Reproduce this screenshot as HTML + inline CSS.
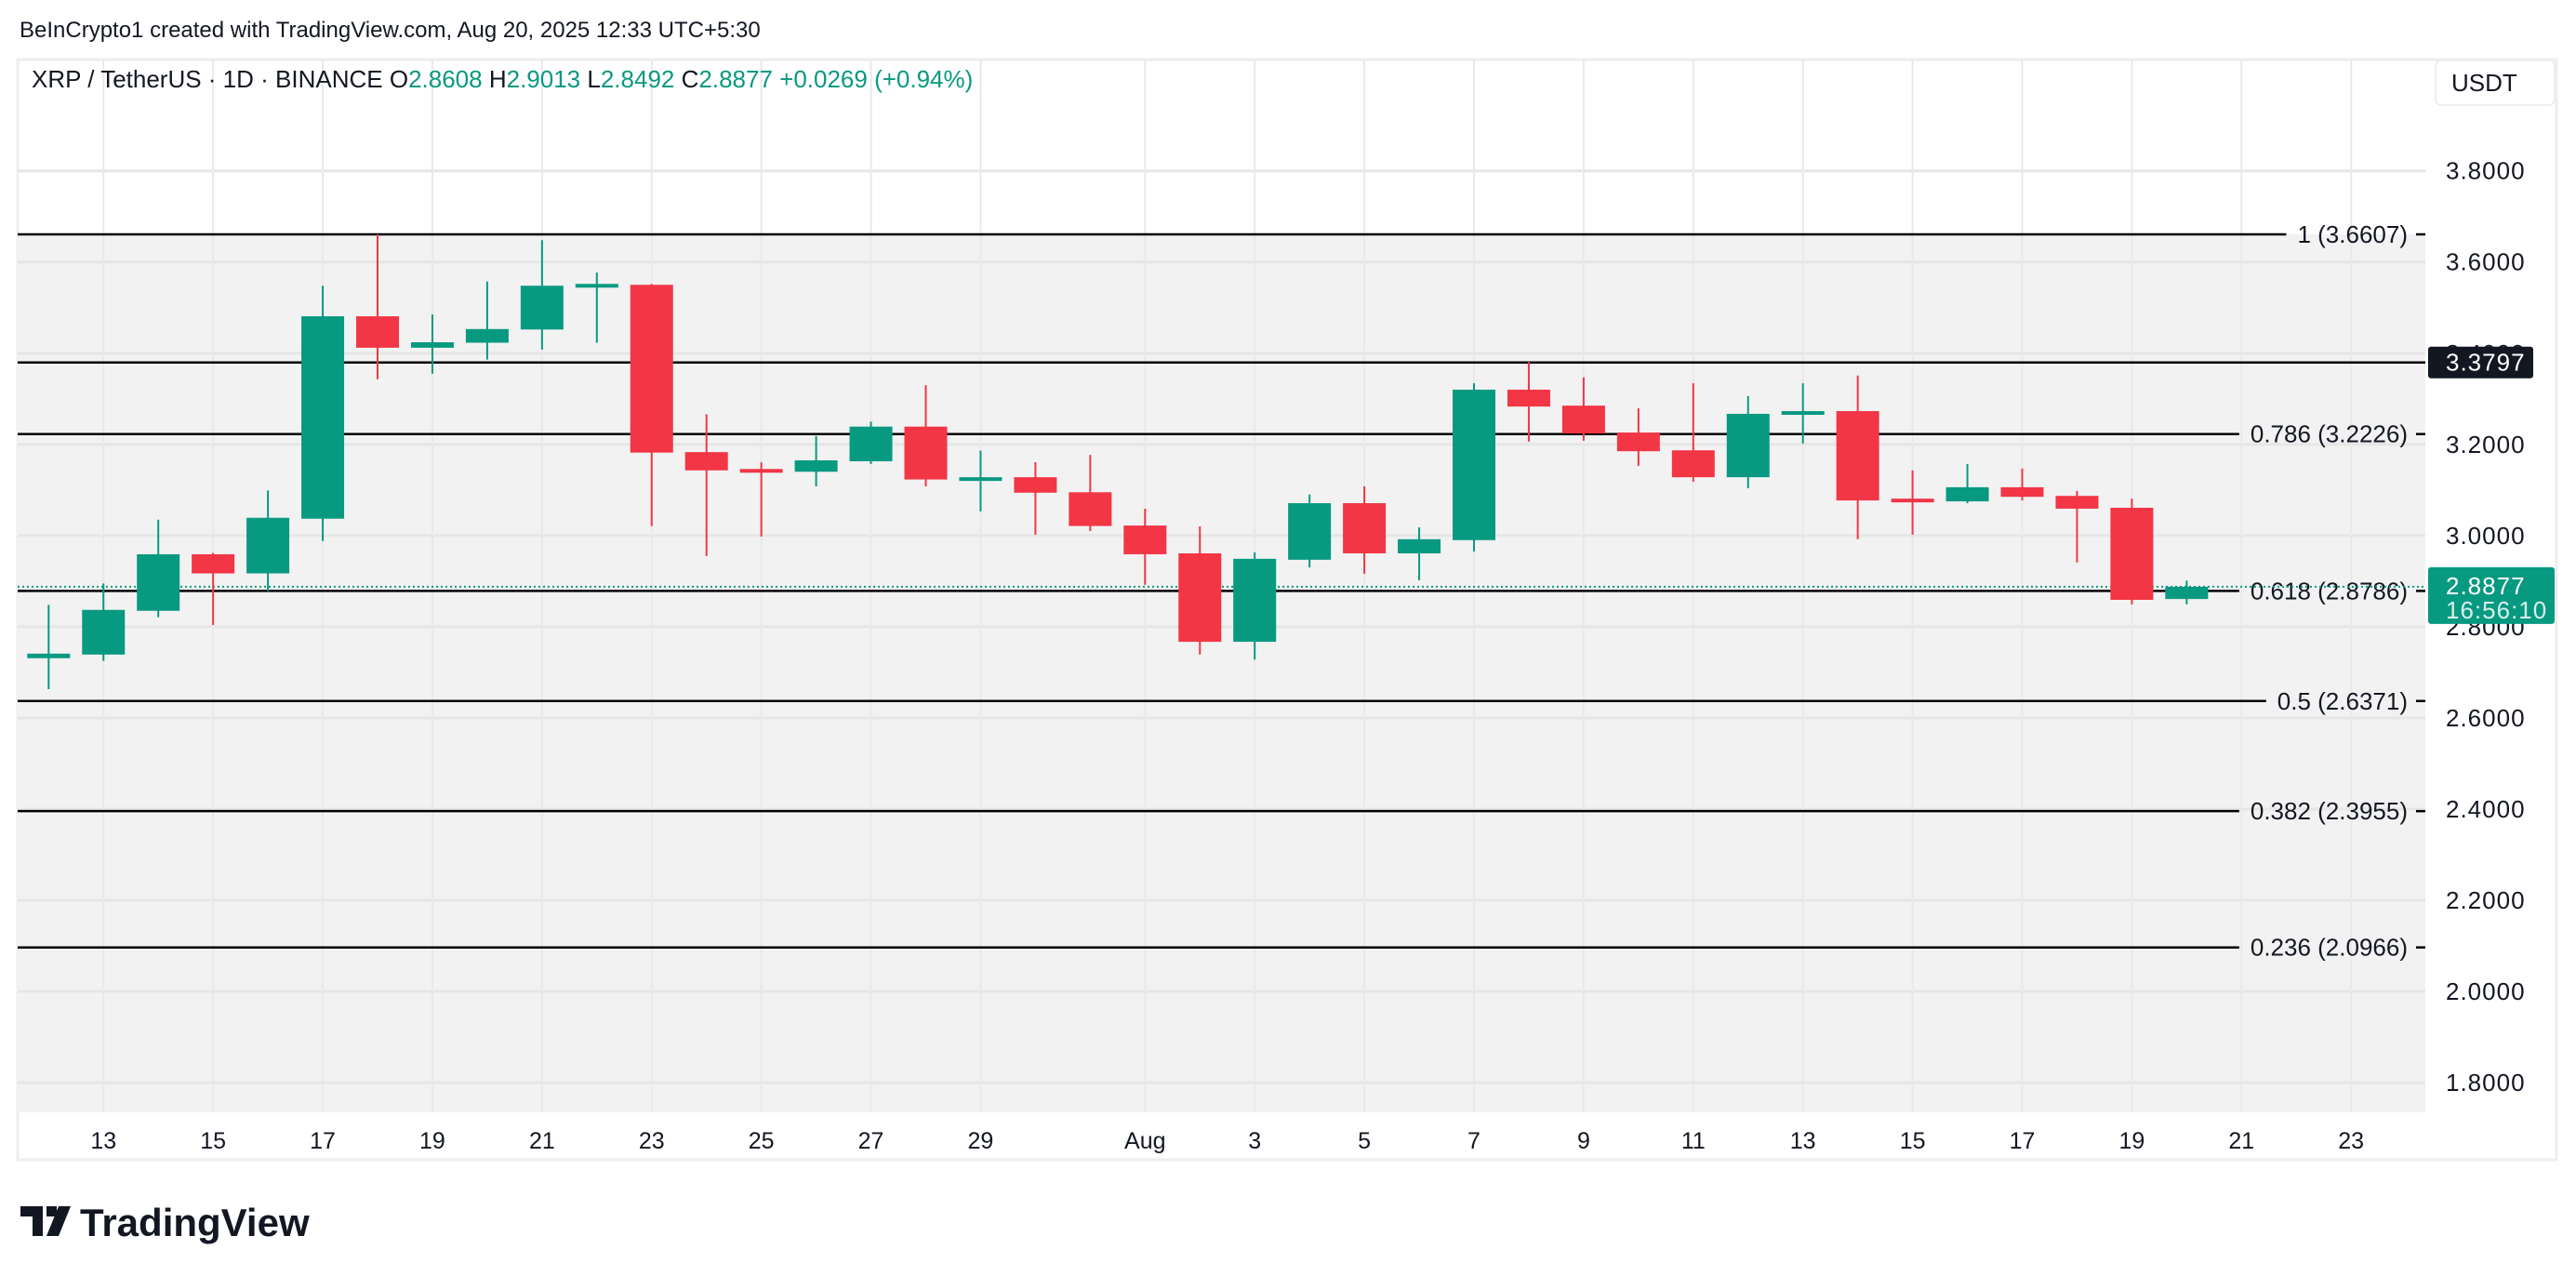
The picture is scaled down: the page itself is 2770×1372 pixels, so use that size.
<!DOCTYPE html>
<html><head><meta charset="utf-8"><style>
html,body{margin:0;padding:0;background:#fff;}
svg{display:block;font-family:"Liberation Sans",sans-serif;}
</style></head><body>
<svg id="chart" width="2770" height="1372" viewBox="0 0 2770 1372" xmlns="http://www.w3.org/2000/svg">
<text x="21" y="40" font-size="24" fill="#131722">BeInCrypto1 created with TradingView.com, Aug 20, 2025 12:33 UTC+5:30</text>
<rect x="19" y="64" width="2730" height="1183" fill="#fff" stroke="#eeeeee" stroke-width="3"/>
<g id="fill"></g>
<g id="grid"></g>
<g id="fibs"></g>
<g id="candles"></g>
<g id="axis"></g>
<text x="34" y="94" font-size="26" fill="#131722">XRP / TetherUS · 1D · BINANCE  <tspan>O</tspan><tspan fill="#089981">2.8608</tspan>  <tspan>H</tspan><tspan fill="#089981">2.9013</tspan>  <tspan>L</tspan><tspan fill="#089981">2.8492</tspan>  <tspan>C</tspan><tspan fill="#089981">2.8877  +0.0269 (+0.94%)</tspan></text>
<rect x="2619" y="65" width="128" height="48" rx="6" fill="#fff" stroke="#eeeeee" stroke-width="2"/>
<text x="2636" y="98" font-size="26" fill="#131722">USDT</text>
<g>
<path d="M22 1297h24v32h-11v-21h-13z M50 1297h11v11h-11z M63 1297h13l-13 32h-13z" fill="#131722"/>
<text x="86" y="1329" font-size="42" font-weight="bold" fill="#131722">TradingView</text>
</g>
</svg>
<script>
const dates=['Jul12','Jul13','Jul14','Jul15','Jul16','Jul17','Jul18','Jul19','Jul20','Jul21','Jul22','Jul23','Jul24','Jul25','Jul26','Jul27','Jul28','Jul29','Jul30','Jul31','Aug1','Aug2','Aug3','Aug4','Aug5','Aug6','Aug7','Aug8','Aug9','Aug10','Aug11','Aug12','Aug13','Aug14','Aug15','Aug16','Aug17','Aug18','Aug19','Aug20'];
const opens=[2.731,2.739,2.835,2.959,2.917,3.037,3.481,3.412,3.423,3.452,3.548,3.550,3.183,3.146,3.140,3.163,3.239,3.123,3.128,3.095,3.022,2.961,2.767,2.947,3.071,2.961,2.990,3.320,3.285,3.226,3.187,3.128,3.265,3.273,3.081,3.075,3.106,3.087,3.061,2.8608];
const highs=[2.848,2.895,3.035,2.962,3.099,3.548,3.661,3.485,3.557,3.648,3.577,3.552,3.266,3.161,3.218,3.250,3.330,3.186,3.161,3.177,3.059,3.020,2.963,3.090,3.108,3.018,3.334,3.381,3.347,3.279,3.334,3.306,3.334,3.351,3.143,3.157,3.147,3.098,3.081,2.9013];
const lows=[2.663,2.725,2.821,2.804,2.878,2.988,3.343,3.355,3.386,3.408,3.423,3.021,2.955,2.998,3.108,3.157,3.108,3.053,3.002,3.010,2.892,2.739,2.728,2.930,2.916,2.902,2.965,3.206,3.208,3.153,3.118,3.104,3.202,2.992,3.002,3.071,3.077,2.941,2.849,2.8492];
const closes=[2.741,2.837,2.959,2.917,3.039,3.481,3.412,3.424,3.453,3.548,3.552,3.182,3.143,3.143,3.165,3.239,3.123,3.128,3.094,3.021,2.959,2.767,2.949,3.071,2.961,2.992,3.320,3.283,3.224,3.185,3.128,3.267,3.273,3.077,3.077,3.106,3.085,3.059,2.859,2.8877];
const priceTicks=[1.8,2.0,2.2,2.4,2.6,2.8,3.0,3.2,3.4,3.6,3.8];
const dayTickIdx=[1,3,5,7,9,11,13,15,17,20,22,24,26,28,30,32,34,36,38,40,42];
const dayTickLabels=['13','15','17','19','21','23','25','27','29','Aug','3','5','7','9','11','13','15','17','19','21','23'];
const fibRatios=['1','0.786','0.618','0.5','0.382','0.236'];
const fibPrices=[3.6607,3.2226,2.8786,2.6371,2.3955,2.0966];
const markPrice=3.3797;
const lastPrice=2.8877;
const countdown='16:56:10';

const NS='http://www.w3.org/2000/svg';
const L=19,R=2608,T=65,B=1196;
const y=p=>183.7+(3.8-p)*490.2;
const x=i=>52.3+i*58.95;
function mk(tag,attrs,parent){const e=document.createElementNS(NS,tag);for(const k in attrs)e.setAttribute(k,attrs[k]);parent.appendChild(e);return e;}
const gFill=document.getElementById('fill'),gGrid=document.getElementById('grid'),gFib=document.getElementById('fibs'),gC=document.getElementById('candles'),gA=document.getElementById('axis');

const fr=mk('rect',{x:L,y:y(fibPrices[0]),width:R-L,height:B-y(fibPrices[0]),fill:'#f2f2f2'},gFill);



priceTicks.forEach(p=>{
  const l=mk('line',{x1:L,x2:R,y1:y(p),y2:y(p),stroke:'#e6e6e6','stroke-width':3},gGrid);
  
  
  const t=mk('text',{x:2630,y:y(p)+9,'font-size':26,'letter-spacing':1,fill:'#131722'},gA);
  t.textContent=p.toFixed(4);
  
  
});
dayTickIdx.forEach((d,k)=>{
  const l=mk('line',{x1:x(d),x2:x(d),y1:T,y2:B,stroke:'#e9e9e9','stroke-width':2},gGrid);
  
  
  const t=mk('text',{x:x(d),y:1235,'font-size':25,fill:'#131722','text-anchor':'middle'},gA);
  t.textContent=dayTickLabels[k];
  
  
});

fibPrices.forEach((p,k)=>{
  const t=mk('text',{x:2589,y:y(p)+9,'font-size':26,fill:'#131722','text-anchor':'end'},gFib);
  t.textContent=fibRatios[k]+' ('+p.toFixed(4)+')';
  
  
  const w=t.getComputedTextLength();
  const l=mk('line',{x1:L,x2:2589-w-12,y1:y(p),y2:y(p),stroke:'#000','stroke-width':2.5},gFib);
  
  
  const d=mk('line',{x1:2598,x2:R,y1:y(p),y2:y(p),stroke:'#000','stroke-width':2.5},gFib);
  
  
});
const ml=mk('line',{x1:L,x2:R,y1:y(markPrice),y2:y(markPrice),stroke:'#000','stroke-width':2.5},gFib);


const cl=mk('line',{x1:L,x2:R,y1:y(lastPrice),y2:y(lastPrice),stroke:'#089981','stroke-width':2,'stroke-dasharray':'2 3'},gFib);



dates.forEach((d,i)=>{
  const up=closes[i]>=opens[i],c=up?'#089981':'#f23645';
  const g=mk('g',{},gC);
  
  
  mk('line',{x1:x(i),x2:x(i),y1:y(highs[i]),y2:y(lows[i]),stroke:c,'stroke-width':2},g);
  const top=y(Math.max(opens[i],closes[i])),bot=y(Math.min(opens[i],closes[i]));
  mk('rect',{x:x(i)-23,y:top,width:46,height:Math.max(bot-top,4),fill:c},g);
});

const mt=mk('rect',{x:2611,y:y(markPrice)-17,width:113,height:34,rx:3,fill:'#131722'},gA);


const mtt=mk('text',{x:2630,y:y(markPrice)+9,'font-size':26,'letter-spacing':1,fill:'#fff'},gA);
mtt.textContent=markPrice.toFixed(4);


const lt=mk('rect',{x:2611,y:y(lastPrice)-21,width:136,height:61,rx:3,fill:'#089981'},gA);


const lt1=mk('text',{x:2630,y:y(lastPrice)+8,'font-size':26,'letter-spacing':1,fill:'#fff'},gA);
lt1.textContent=lastPrice.toFixed(4);


const lt2=mk('text',{x:2630,y:y(lastPrice)+34,'font-size':26,'letter-spacing':1,fill:'#d8f0ea'},gA);
lt2.textContent=countdown;


</script>
</body></html>
